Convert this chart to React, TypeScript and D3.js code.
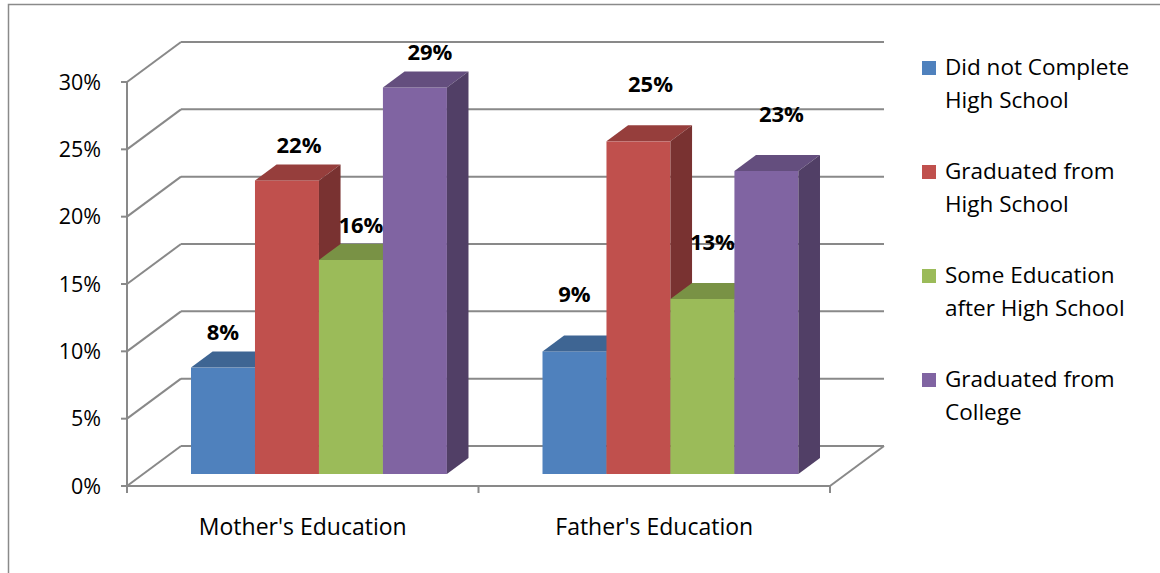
import React, { useRef, useEffect } from "react";
import * as d3 from "d3";

// categories on the x axis
const categories = ["Mother's Education", "Father's Education"];

// series (legend order)
const seriesNames = [
  "Did not Complete High School",
  "Graduated from High School",
  "Some Education after High School",
  "Graduated from College",
];
const legendLines = [
  ["Did not Complete", "High School"],
  ["Graduated from", "High School"],
  ["Some Education", "after High School"],
  ["Graduated from", "College"],
];
const seriesColors = ["#4F81BD", "#C0504D", "#9BBB59", "#8064A2"];

// values per category, one per series
const motherValues = [0.079, 0.218, 0.159, 0.287];
const fatherValues = [0.091, 0.247, 0.13, 0.225];

// y axis ticks
const yTicks = [0, 0.05, 0.1, 0.15, 0.2, 0.25, 0.3];

const W = 1160;
const H = 573;
const FONT = "'Open Sans', sans-serif";

const App: React.FC = () => {
  const svgRef = useRef<SVGSVGElement | null>(null);

  useEffect(() => {
    document.body.style.margin = "0";
    const svg = d3.select(svgRef.current);
    svg.selectAll("*").remove();

    const valuesByCat = [motherValues, fatherValues];

    // front plane of the 3D box
    const left = 127;
    const right = 830;
    const bottom = 486;
    const top = 82;
    const DX = 54; // depth offset
    const DY = 40;
    const z0 = 0.3; // bar front depth
    const z1 = 0.7; // bar back depth

    const x0 = d3
      .scaleBand()
      .domain(categories)
      .range([left, right])
      .paddingInner(0.272)
      .paddingOuter(0.136);
    const x1 = d3
      .scaleBand()
      .domain(seriesNames)
      .range([0, x0.bandwidth()]);
    const y = d3.scaleLinear().domain([0, 0.3]).range([bottom, top]);

    const gridColor = "#898989";

    // border
    svg
      .append("rect")
      .attr("x", 8.5)
      .attr("y", 4.5)
      .attr("width", 1300)
      .attr("height", 700)
      .attr("fill", "none")
      .attr("stroke", "#8a8a8a")
      .attr("stroke-width", 1.5);

    const grid = svg.append("g").attr("stroke", gridColor).attr("stroke-width", 2).attr("fill", "none");

    // back wall gridlines + left wall diagonals
    yTicks.forEach((t) => {
      grid
        .append("line")
        .attr("x1", left + DX)
        .attr("x2", right + DX)
        .attr("y1", y(t) - DY)
        .attr("y2", y(t) - DY);
      grid
        .append("line")
        .attr("x1", left)
        .attr("x2", left + DX)
        .attr("y1", y(t))
        .attr("y2", y(t) - DY);
      // y ticks
      grid
        .append("line")
        .attr("x1", left - 6)
        .attr("x2", left)
        .attr("y1", y(t))
        .attr("y2", y(t));
    });
    // floor
    grid.append("line").attr("x1", left).attr("x2", right).attr("y1", bottom).attr("y2", bottom);
    grid.append("line").attr("x1", right).attr("x2", right + DX).attr("y1", bottom).attr("y2", bottom - DY);
    // y axis
    grid.append("line").attr("x1", left).attr("x2", left).attr("y1", top).attr("y2", bottom);
    // x ticks at category band edges
    const xTickPos = [left, ...categories.slice(1).map((c) => (x0(c) ?? 0) - (x0.step() - x0.bandwidth()) / 2), right];
    xTickPos.forEach((xv) => {
      grid.append("line").attr("x1", xv).attr("x2", xv).attr("y1", bottom).attr("y2", bottom + 7);
    });

    // y tick labels
    svg
      .append("g")
      .selectAll("text")
      .data(yTicks)
      .join("text")
      .attr("x", 101)
      .attr("y", (d) => y(d))
      .attr("dy", "0.35em")
      .attr("text-anchor", "end")
      .attr("font-family", FONT)
      .attr("font-size", 21.5)
      .attr("fill", "#000")
      .text((d) => d3.format(".0%")(d));

    // category labels
    svg
      .append("g")
      .selectAll("text")
      .data(categories)
      .join("text")
      .attr("x", (d) => (x0(d) ?? 0) + x0.bandwidth() / 2)
      .attr("y", 535)
      .attr("text-anchor", "middle")
      .attr("font-family", FONT)
      .attr("font-size", 23)
      .attr("fill", "#000")
      .text((d) => d);

    // bars
    const sx = z0 * DX;
    const sy = z0 * DY;
    const ddx = (z1 - z0) * DX;
    const ddy = (z1 - z0) * DY;
    const bars = svg.append("g");
    const labelDx = [0, 12, 10, 15];
    const labelLift = [35, 57];

    categories.forEach((cat, ci) => {
      valuesByCat[ci].forEach((v, si) => {
        const c = d3.rgb(seriesColors[si]);
        const topC = d3.rgb(c.r * 0.78, c.g * 0.78, c.b * 0.78).formatHex();
        const sideC = d3.rgb(c.r * 0.63, c.g * 0.63, c.b * 0.63).formatHex();
        const xa = (x0(cat) ?? 0) + (x1(seriesNames[si]) ?? 0) + sx;
        const xb = xa + x1.bandwidth();
        const yt = y(v) - sy;
        const yb = y(0) - sy;
        const g = bars.append("g");
        g.append("rect")
          .attr("x", xa)
          .attr("y", yt)
          .attr("width", xb - xa)
          .attr("height", yb - yt)
          .attr("fill", c.formatHex());
        g.append("polygon")
          .attr("points", [
            [xa, yt],
            [xb, yt],
            [xb + ddx, yt - ddy],
            [xa + ddx, yt - ddy],
          ].map((p) => p.join(",")).join(" "))
          .attr("fill", topC);
        g.append("polygon")
          .attr("points", [
            [xb, yt],
            [xb + ddx, yt - ddy],
            [xb + ddx, yb - ddy],
            [xb, yb],
          ].map((p) => p.join(",")).join(" "))
          .attr("fill", sideC);
        svg
          .append("text")
          .attr("x", (xa + xb) / 2 + labelDx[si])
          .attr("y", yt - labelLift[ci])
          .attr("dy", "0.35em")
          .attr("text-anchor", "middle")
          .attr("font-family", FONT)
          .attr("font-weight", "bold")
          .attr("font-size", 22)
          .attr("fill", "#000")
          .text(d3.format(".0%")(v));
      });
    });

    // legend
    const legend = svg.append("g").attr("transform", "translate(922,61)");
    const item = legend
      .selectAll("g")
      .data(seriesNames)
      .join("g")
      .attr("transform", (_, i) => `translate(0,${i * 104})`);
    item
      .append("rect")
      .attr("width", 14)
      .attr("height", 14)
      .attr("fill", (_, i) => seriesColors[i]);
    item.each(function (_, i) {
      d3.select(this)
        .selectAll("text")
        .data(legendLines[i])
        .join("text")
        .attr("x", 23)
        .attr("y", (_, j) => 14 + j * 33)
        .attr("font-family", FONT)
        .attr("font-size", 22.5)
        .attr("fill", "#000")
        .text((d) => d);
    });
  }, []);

  return (
    <div style={{ width: W, height: H, background: "#fff" }}>
      <svg ref={svgRef} width={W} height={H} style={{ display: "block" }}></svg>
    </div>
  );
};

export default App;
